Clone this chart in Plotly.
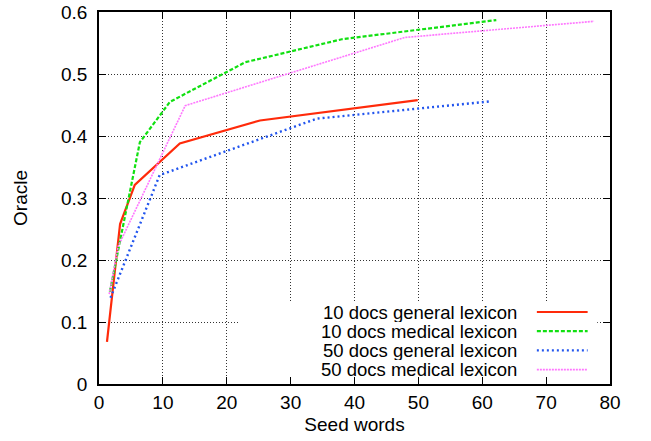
import plotly.graph_objects as go

# ---- data ----
gen10_x = [1.25, 3.3, 5.6, 12.65, 25.2, 49.9]
gen10_y = [0.068, 0.258, 0.321, 0.388, 0.425, 0.458]

med10_x = [1.7, 6.4, 11.1, 22.9, 38.0, 62.2]
med10_y = [0.149, 0.390, 0.455, 0.519, 0.556, 0.587]

gen50_x = [1.8, 9.5, 34.1, 61.4]
gen50_y = [0.139, 0.337, 0.428, 0.456]

med50_x = [1.6, 3.0, 13.5, 47.9, 77.5]
med50_y = [0.145, 0.222, 0.449, 0.559, 0.585]

series_names = ["10 docs general lexicon", "10 docs medical lexicon",
                "50 docs general lexicon", "50 docs medical lexicon"]
x_ticks = [0, 10, 20, 30, 40, 50, 60, 70, 80]
y_ticks = [0, 0.1, 0.2, 0.3, 0.4, 0.5, 0.6]
y_tick_text = ["0", "0.1", "0.2", "0.3", "0.4", "0.5", "0.6"]

# ---- styles ----
FONT = "Liberation Sans, Arial, Helvetica, sans-serif"
FS = 19
styles = [
    dict(color="#ff2a0a", width=2.2, dash="solid"),
    dict(color="#11e011", width=2.2, dash="4px,2px"),
    dict(color="#2255ee", width=2.4, dash="2px,3px"),
    dict(color="#ff77ff", width=1.6, dash="2px,1px"),
]
xs = [gen10_x, med10_x, gen50_x, med50_x]
ys = [gen10_y, med10_y, gen50_y, med50_y]

fig = go.Figure()
for name, x, y, st in zip(series_names, xs, ys, styles):
    fig.add_trace(go.Scatter(x=x, y=y, mode="lines", name=name,
                             line=st, showlegend=False))

# opaque key box (hides the grid behind the key, like gnuplot)
fig.add_shape(type="rect", xref="x", yref="y", x0=21.8, x1=78.0, y0=0, y1=0.131,
              fillcolor="white", line=dict(width=0), layer="between")

# custom key: text right-aligned, sample to the right
key_y = [0.1161, 0.0852, 0.0542, 0.0232]
for name, ky, st in zip(series_names, key_y, styles):
    fig.add_annotation(x=65.7, y=ky, xref="x", yref="y", text=name,
                       showarrow=False, xanchor="right", yanchor="middle",
                       height=19, valign="middle",
                       font=dict(family=FONT, size=18.5, color="black"))
    fig.add_shape(type="line", xref="x", yref="y", x0=68.55, x1=76.5, y0=ky, y1=ky,
                  line=st, layer="above")

axis_common = dict(
    showline=True, linecolor="black", linewidth=1.5, mirror="allticks",
    ticks="inside", ticklen=7, tickwidth=1.2, tickcolor="black",
    showgrid=True, gridcolor="#333333", gridwidth=1, griddash="1px,2px",
    zeroline=False, tickfont=dict(family=FONT, size=FS, color="black"),
)

fig.update_xaxes(range=[0, 80], tickvals=x_ticks, ticklabelstandoff=0,
                 title=dict(text="Seed words", font=dict(family=FONT, size=FS, color="black"),
                            standoff=6),
                 **axis_common)
fig.update_yaxes(range=[0, 0.6], tickvals=y_ticks, ticktext=y_tick_text,
                 ticklabelstandoff=6,
                 title=dict(text="Oracle", font=dict(family=FONT, size=FS, color="black"),
                            standoff=28),
                 **axis_common)

fig.update_layout(
    width=651, height=441,
    margin=dict(l=99, r=41, t=12, b=57, autoexpand=False),
    paper_bgcolor="white", plot_bgcolor="white",
    font=dict(family=FONT, size=FS, color="black"),
)

# remove the page's default body margin so the figure sits at the window's top-left
fig.write_html("out.html",
               config={"displayModeBar": False},
               post_script="document.body.style.margin='0';document.body.style.overflow='hidden';")
